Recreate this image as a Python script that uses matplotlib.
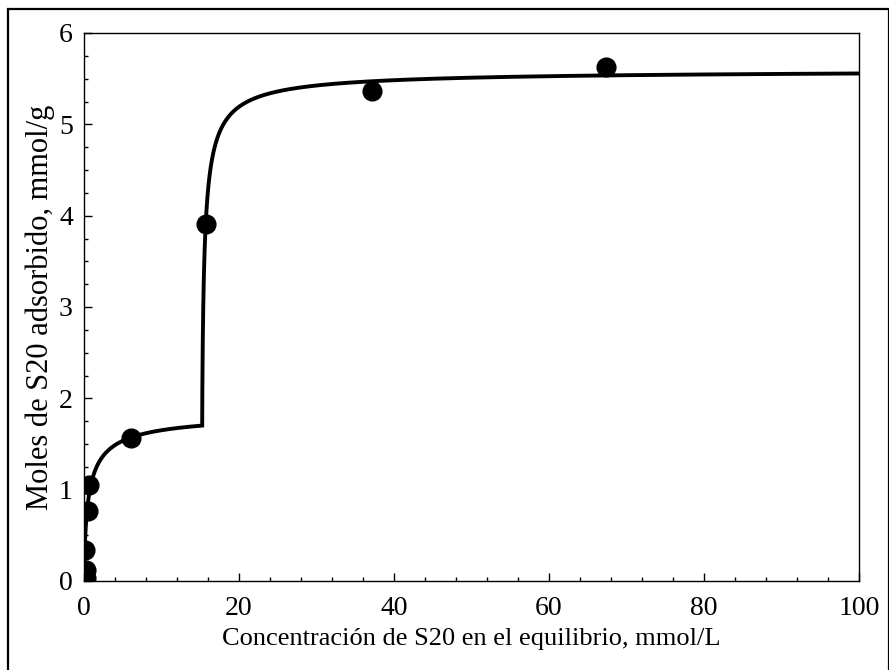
import numpy as np
import matplotlib
matplotlib.use("Agg")
import matplotlib.pyplot as plt
from matplotlib.ticker import MultipleLocator
from matplotlib.patches import Rectangle

plt.rcParams['font.family'] = ['Liberation Serif', 'DejaVu Serif']

# Experimental adsorption data
conc_eq = [0.3, 0.3, 0.15, 0.5, 0.6, 6.0, 15.8, 37.2, 67.3]
q_ads = [0.03, 0.12, 0.34, 0.77, 1.05, 1.57, 3.91, 5.37, 5.63]

# Two-step isotherm fit (Sips form for each step)
step1_qm, step1_K, step1_n = 1.856, 1.611, 0.75
step2_c = 15.25
step2_qm, step2_K, step2_n = 3.90, 3.065, 0.80


def sips(x, qm, K, n):
    v = (K * np.clip(x, 0, None)) ** n
    return qm * v / (1 + v)


x_fit = np.concatenate([np.linspace(0, step2_c, 600),
                        step2_c + np.geomspace(1e-4, 100 - step2_c, 800)])
q_fit = np.where(
    x_fit < step2_c,
    sips(x_fit, step1_qm, step1_K, step1_n),
    sips(step2_c, step1_qm, step1_K, step1_n)
    + sips(x_fit - step2_c, step2_qm, step2_K, step2_n),
)

fig = plt.figure(figsize=(8.89, 6.70), dpi=100)
ax = fig.add_axes([84 / 889, 1 - 581 / 670, (859 - 84) / 889, (581 - 33) / 670])

ax.plot(x_fit, q_fit, color='black', lw=2.8, solid_joinstyle='miter', zorder=2)
ax.plot(conc_eq, q_ads, 'o', color='black', ms=13.5, zorder=3)

ax.set_xlim(0, 100)
ax.set_ylim(0, 6)
ax.xaxis.set_major_locator(MultipleLocator(20))
ax.xaxis.set_minor_locator(MultipleLocator(4))
ax.yaxis.set_major_locator(MultipleLocator(1))
ax.yaxis.set_minor_locator(MultipleLocator(0.25))
ax.tick_params(which='both', direction='in', top=False, right=False,
               labelsize=20, width=1.0)
ax.tick_params(axis='x', which='major', length=6, pad=11)
ax.tick_params(axis='y', which='major', length=6, pad=8)
ax.tick_params(which='minor', length=3)
for s in ax.spines.values():
    s.set_linewidth(1.0)

ax.set_xlabel('Concentración de S20 en el equilibrio, mmol/L', fontsize=19, labelpad=5)
ax.set_ylabel('Moles de S20 adsorbido, mmol/g', fontsize=22, labelpad=3)

# Frame around the whole figure
fig.patches.append(Rectangle((8 / 889, -0.05), (888.5 - 8) / 889, 1.05 - 9 / 670,
                             transform=fig.transFigure, fill=False,
                             edgecolor='black', lw=1.6))

fig.savefig('out.png', dpi=100)
